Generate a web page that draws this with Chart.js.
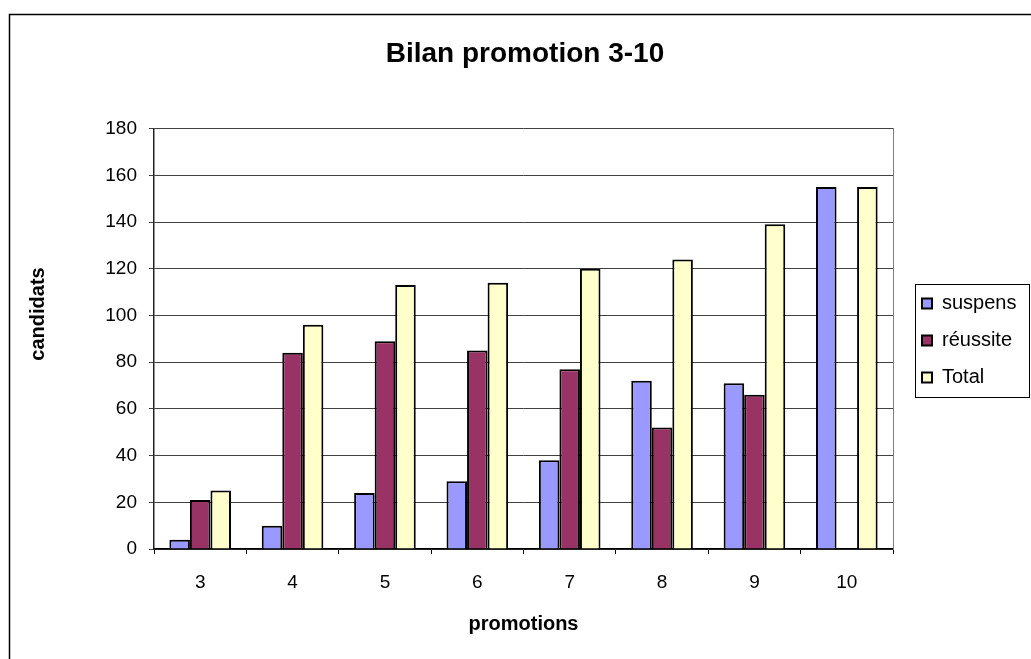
<!DOCTYPE html>
<html>
<head>
<meta charset="utf-8">
<title>Bilan promotion 3-10</title>
<script src="https://cdn.jsdelivr.net/npm/chart.js@4/dist/chart.umd.min.js"></script>
<style>
  html, body { margin: 0; padding: 0; background: #fff; }
  #wrap { width: 1031px; height: 659px; }
</style>
</head>
<body>
<div id="wrap"><canvas id="chart" width="1031" height="659"></canvas></div>
<script>
/* données */
const promotions = ["3", "4", "5", "6", "7", "8", "9", "10"];
const suspens  = [4, 10, 24, 29, 38, 72, 71, 155];
const reussite = [21, 84, 89, 85, 77, 52, 66, null];
const total    = [25, 96, 113, 114, 120, 124, 139, 155];
const yTicks   = [0, 20, 40, 60, 80, 100, 120, 140, 160, 180];

const FONT = "'Liberation Sans', Arial, sans-serif";

/* cadre extérieur, titre vertical et cadre de la légende */
const decor = {
  id: "decor",
  beforeDraw(chart) {
    const ctx = chart.ctx;
    ctx.save();
    ctx.fillStyle = "#fff";
    ctx.fillRect(0, 0, chart.width, chart.height);
    ctx.strokeStyle = "#000";
    ctx.lineWidth = 1.5;
    ctx.strokeRect(9.5, 14.5, chart.width + 20, chart.height + 20);
    ctx.restore();
  },
  afterDraw(chart) {
    const ctx = chart.ctx;
    ctx.save();
    // titre de l'axe y
    ctx.translate(38, 314);
    ctx.rotate(-Math.PI / 2);
    ctx.font = "bold 20px " + FONT;
    ctx.fillStyle = "#000";
    ctx.textAlign = "center";
    ctx.textBaseline = "middle";
    ctx.fillText("candidats", 0, 0);
    ctx.restore();

    // cadre de la légende
    const hb = chart.legend && chart.legend.legendHitBoxes;
    if (hb && hb.length) {
      const last = hb[hb.length - 1];
      const x0 = hb[0].left - 7;
      const y0 = hb[0].top - 10;
      const y1 = last.top + last.height + 9;
      ctx.save();
      ctx.strokeStyle = "#000";
      ctx.lineWidth = 1;
      ctx.strokeRect(Math.round(x0) + 0.5, Math.round(y0) + 0.5, chart.width - 2 - Math.round(x0), Math.round(y1 - y0));
      ctx.restore();
    }
  }
};

const ctx = document.getElementById("chart").getContext("2d");
new Chart(ctx, {
  type: "bar",
  data: {
    labels: promotions,
    datasets: [
      { label: "suspens",  data: suspens,  backgroundColor: "#9999ff", borderColor: "#000", borderWidth: 2 },
      { label: "réussite", data: reussite, backgroundColor: "#993366", borderColor: "#000", borderWidth: 2 },
      { label: "Total",    data: total,    backgroundColor: "#ffffcc", borderColor: "#000", borderWidth: 2 }
    ]
  },
  options: {
    responsive: false,
    animation: false,
    devicePixelRatio: 1,
    datasets: { bar: { categoryPercentage: 0.667, barPercentage: 1.0 } },
    layout: { padding: { left: 24, right: 5, top: 0, bottom: 0 } },
    plugins: {
      title: {
        display: true,
        text: "Bilan promotion 3-10",
        color: "#000",
        font: { family: FONT, size: 28, weight: "bold" },
        padding: { top: 37, bottom: 58 }
      },
      legend: {
        position: "right",
        align: "center",
        maxWidth: 121,
        title: {
          display: true,
          text: "",
          font: { family: FONT, size: 10, lineHeight: 1 },
          padding: { top: 6, bottom: 6 }
        },
        labels: {
          boxWidth: 10,
          boxHeight: 10,
          padding: 17,
          color: "#000",
          font: { family: FONT, size: 20 }
        }
      },
      tooltip: { enabled: false }
    },
    scales: {
      x: {
        grid: { display: true, drawOnChartArea: false, drawTicks: true, tickLength: 5, color: "#000", offset: true },
        border: { display: true, color: "#000", width: 1.5 },
        ticks: { color: "#000", padding: 17, font: { family: FONT, size: 19 } },
        title: {
          display: true,
          text: "promotions",
          color: "#000",
          font: { family: FONT, size: 20, weight: "bold" },
          padding: { top: 0, bottom: 23 }
        },
        afterFit(scale) { scale.height = 110; }
      },
      y: {
        min: 0,
        max: 180,
        afterBuildTicks(scale) { scale.ticks = yTicks.map(v => ({ value: v })); },
        grid: { color: "#404040", lineWidth: 1, tickLength: 5 },
        border: { display: true, color: "#222", width: 1.5 },
        ticks: { color: "#000", padding: 12, font: { family: FONT, size: 19 } },
        afterFit(scale) { scale.width = 130; }
      },
      y2: {
        position: "right",
        display: true,
        grid: { display: false },
        ticks: { display: false },
        border: { display: true, color: "#808080", width: 1 },
        afterFit(scale) { scale.width = 12; }
      }
    }
  },
  plugins: [decor]
});
</script>
</body>
</html>
